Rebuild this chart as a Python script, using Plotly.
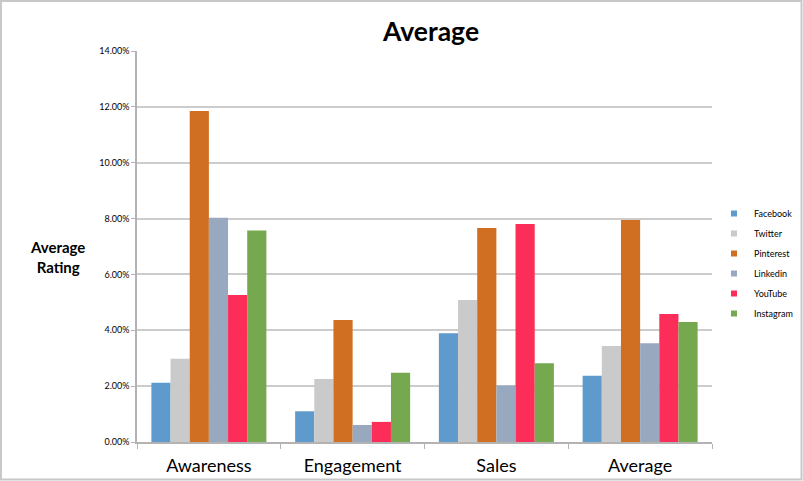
import plotly.graph_objects as go

categories = ["Awareness", "Engagement", "Sales", "Average"]
series_names = ["Facebook", "Twitter", "Pinterest", "Linkedin", "YouTube", "Instagram"]
facebook = [2.12, 1.10, 3.89, 2.37]
twitter = [2.98, 2.26, 5.08, 3.44]
pinterest = [11.85, 4.37, 7.66, 7.95]
linkedin = [8.03, 0.61, 2.02, 3.54]
youtube = [5.26, 0.72, 7.81, 4.58]
instagram = [7.57, 2.48, 2.82, 4.30]
series_values = [facebook, twitter, pinterest, linkedin, youtube, instagram]
colors = ["#5e9bcc", "#cacaca", "#d06e22", "#97a8bf", "#fd2d5a", "#76a94f"]
y_ticks = [0, 2, 4, 6, 8, 10, 12, 14]
y_tick_labels = ["0.00%", "2.00%", "4.00%", "6.00%", "8.00%", "10.00%", "12.00%", "14.00%"]

W, H = 803, 481
L, R, T, B = 137, 91, 51, 39
pw, ph = W - L - R, H - T - B

fig = go.Figure()
for name, vals, col in zip(series_names, series_values, colors):
    fig.add_trace(go.Bar(name=name, x=categories, y=[v / 100 for v in vals],
                         marker=dict(color=col, line=dict(width=0)), showlegend=False))
# legend entries with small square swatches
for name, col in zip(series_names, colors):
    fig.add_trace(go.Scatter(name=name, x=[None], y=[None], mode="markers",
                             marker=dict(symbol="square", size=6, color=col),
                             legendgroup=name, showlegend=True, hoverinfo="skip"))

def px2x(px):
    return (px - L) / pw

def py2y(py):
    return (H - B - py) / ph

fig.update_layout(
    width=W, height=H,
    margin=dict(l=L, r=R, t=T, b=B, pad=0, autoexpand=False),
    paper_bgcolor="white", plot_bgcolor="white",
    barmode="group", bargap=0.2, bargroupgap=0,
    font=dict(family="Lato, Liberation Sans, sans-serif", color="black"),
    title=dict(text="<b>Average</b>", x=(431) / W, xanchor="center",
               y=1 - 32 / H, yanchor="middle", font=dict(size=26.5)),
    xaxis=dict(showline=True, linecolor="#b3b3b3", linewidth=1.5,
               ticks="outside", tickson="boundaries", ticklen=5, tickcolor="#b3b3b3",
               tickfont=dict(size=18), showgrid=False, ticklabelstandoff=7),
    yaxis=dict(range=[0, 0.14], tickvals=[v / 100 for v in y_ticks], ticktext=y_tick_labels,
               showline=True, linecolor="#b3b3b3", linewidth=1.5,
               ticks="outside", ticklen=4, tickcolor="#b3b3b3",
               showgrid=True, gridcolor="#cccccc", gridwidth=1.5,
               tickfont=dict(size=9), zeroline=False),
    legend=dict(x=px2x(714), y=py2y(199), xanchor="left", yanchor="top",
                font=dict(size=9), tracegroupgap=1, itemwidth=30,
                bgcolor="rgba(0,0,0,0)"),
    shapes=[dict(type="rect", xref="paper", yref="paper",
                 x0=px2x(1), x1=px2x(W - 1.5), y0=py2y(H - 1.5), y1=py2y(1),
                 line=dict(color="#c8c8c8", width=2), layer="below")],
    annotations=[dict(text="<b>Average<br>Rating</b>", xref="paper", yref="paper",
                      x=px2x(57), y=py2y(257), xanchor="center", yanchor="middle",
                      showarrow=False, font=dict(size=15), align="center")],
)

fig.write_html("out.html", config={"displayModeBar": False},
               post_script="document.body.style.margin='0px';document.body.style.overflow='hidden';")
